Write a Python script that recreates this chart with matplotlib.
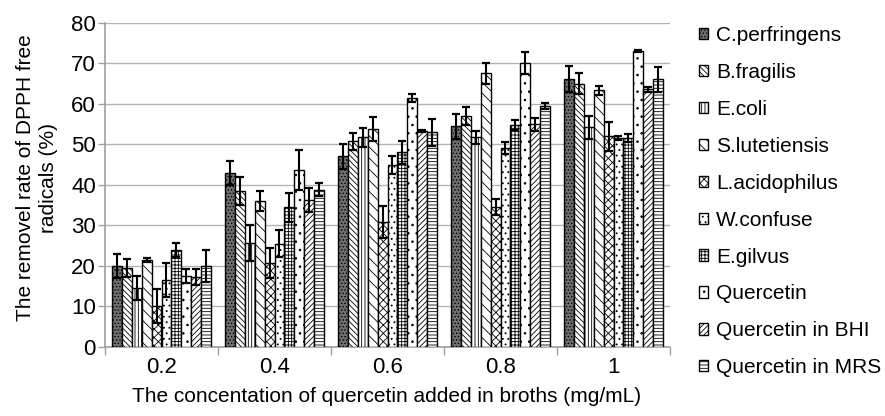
import matplotlib
matplotlib.use("Agg")
import matplotlib.pyplot as plt
import numpy as np

plt.rcParams['font.family'] = ['Liberation Sans', 'DejaVu Sans']
plt.rcParams['hatch.linewidth'] = 0.6

categories = ["0.2", "0.4", "0.6", "0.8", "1"]
series = ["C.perfringens", "B.fragilis", "E.coli", "S.lutetiensis", "L.acidophilus",
          "W.confuse", "E.gilvus", "Quercetin", "Quercetin in BHI", "Quercetin in MRS"]

c_perfringens = [20.0, 43.0, 47.0, 54.4, 66.0]
b_fragilis = [19.5, 38.5, 50.7, 57.0, 65.0]
e_coli = [14.5, 25.6, 51.7, 51.7, 54.2]
s_lutetiensis = [21.5, 36.0, 53.8, 67.5, 63.3]
l_acidophilus = [10.0, 20.7, 30.8, 34.6, 52.0]
w_confuse = [16.5, 25.5, 44.9, 49.0, 51.5]
e_gilvus = [24.0, 34.5, 48.0, 54.8, 51.5]
quercetin = [17.5, 43.7, 61.5, 70.0, 73.0]
quercetin_bhi = [17.2, 36.2, 53.3, 55.0, 63.6]
quercetin_mrs = [20.0, 38.8, 53.0, 59.5, 66.0]

err_c_perfringens = [3.0, 3.0, 3.0, 3.0, 3.2]
err_b_fragilis = [2.2, 3.5, 2.2, 2.2, 2.6]
err_e_coli = [3.0, 4.4, 2.4, 1.7, 2.9]
err_s_lutetiensis = [0.5, 2.5, 3.0, 2.5, 1.2]
err_l_acidophilus = [4.2, 3.7, 4.0, 2.0, 3.6]
err_w_confuse = [4.2, 3.4, 2.3, 1.5, 0.5]
err_e_gilvus = [1.7, 3.6, 2.8, 1.2, 1.0]
err_quercetin = [1.8, 5.0, 1.0, 2.7, 0.3]
err_quercetin_bhi = [2.0, 3.0, 0.3, 1.6, 0.6]
err_quercetin_mrs = [4.0, 1.6, 3.3, 0.7, 3.0]

values = [c_perfringens, b_fragilis, e_coli, s_lutetiensis, l_acidophilus,
          w_confuse, e_gilvus, quercetin, quercetin_bhi, quercetin_mrs]
errors = [err_c_perfringens, err_b_fragilis, err_e_coli, err_s_lutetiensis, err_l_acidophilus,
          err_w_confuse, err_e_gilvus, err_quercetin, err_quercetin_bhi, err_quercetin_mrs]

styles = [
    dict(facecolor='#6e6e6e', hatch='.....'),
    dict(facecolor='white', hatch='\\\\\\\\\\\\'),
    dict(facecolor='white', hatch='|||||'),
    dict(facecolor='white', hatch='\\\\\\'),
    dict(facecolor='white', hatch='xxxx'),
    dict(facecolor='white', hatch='...'),
    dict(facecolor='white', hatch='+++++'),
    dict(facecolor='white', hatch='..'),
    dict(facecolor='white', hatch='//////'),
    dict(facecolor='white', hatch='-----'),
]

fig = plt.figure(figsize=(8.85, 4.16), dpi=100)
ax = fig.add_axes([105/885, 1-347/416, (670-105)/885, (347-22.7)/416])

n = len(series)
group_w = 0.87
bw = group_w / n
x = np.arange(len(categories))
handles = []
for i, (name, vals, errs, st) in enumerate(zip(series, values, errors, styles)):
    pos = x - group_w/2 + bw*(i+0.5)
    b = ax.bar(pos, vals, bw, yerr=errs, label=name, edgecolor='black', linewidth=1.0,
               error_kw=dict(ecolor='black', elinewidth=1.5, capsize=3.2, capthick=1.6),
               zorder=3, **st)
    handles.append(b)

ax.set_xlim(-0.5, len(categories)-0.5)
ax.set_ylim(0, 80)
ax.set_yticks(np.arange(0, 81, 10))
ax.yaxis.grid(True, color='#b4b4b4', linewidth=1.0, zorder=0)
ax.set_axisbelow(True)
ax.set_xticks(x)
ax.set_xticklabels(categories, fontsize=16)
ax.set_xticks(np.arange(-0.5, len(categories), 1.0), minor=True)
ax.tick_params(axis='x', which='major', length=0, pad=7)
ax.tick_params(axis='x', which='minor', length=6, color='#a0a0a0', width=1.0)
ax.tick_params(axis='y', length=5, color='#a0a0a0', width=1.0, labelsize=16, pad=1.5)
for s in ['top', 'right']:
    ax.spines[s].set_visible(False)
for s in ['left', 'bottom']:
    ax.spines[s].set_color('#a0a0a0')
    ax.spines[s].set_linewidth(1.2)

fig.text(37/885, 1-178/416, "The removel rate of DPPH free\nradicals (%)", fontsize=15,
         rotation=90, ha='center', va='center', multialignment='center', linespacing=1.3)
fig.text(387/885, 1-397/416, "The concentation of quercetin added in broths (mg/mL)",
         fontsize=15, ha='center', va='center')

leg = fig.legend(handles=handles, labels=series, loc='upper left',
                 bbox_to_anchor=(699/885, 1-26/416), frameon=False, fontsize=15,
                 handlelength=0.45, handleheight=0.45, handletextpad=0.38, labelspacing=0.86,
                 borderaxespad=0, borderpad=0)

fig.savefig("out.png", dpi=100)
